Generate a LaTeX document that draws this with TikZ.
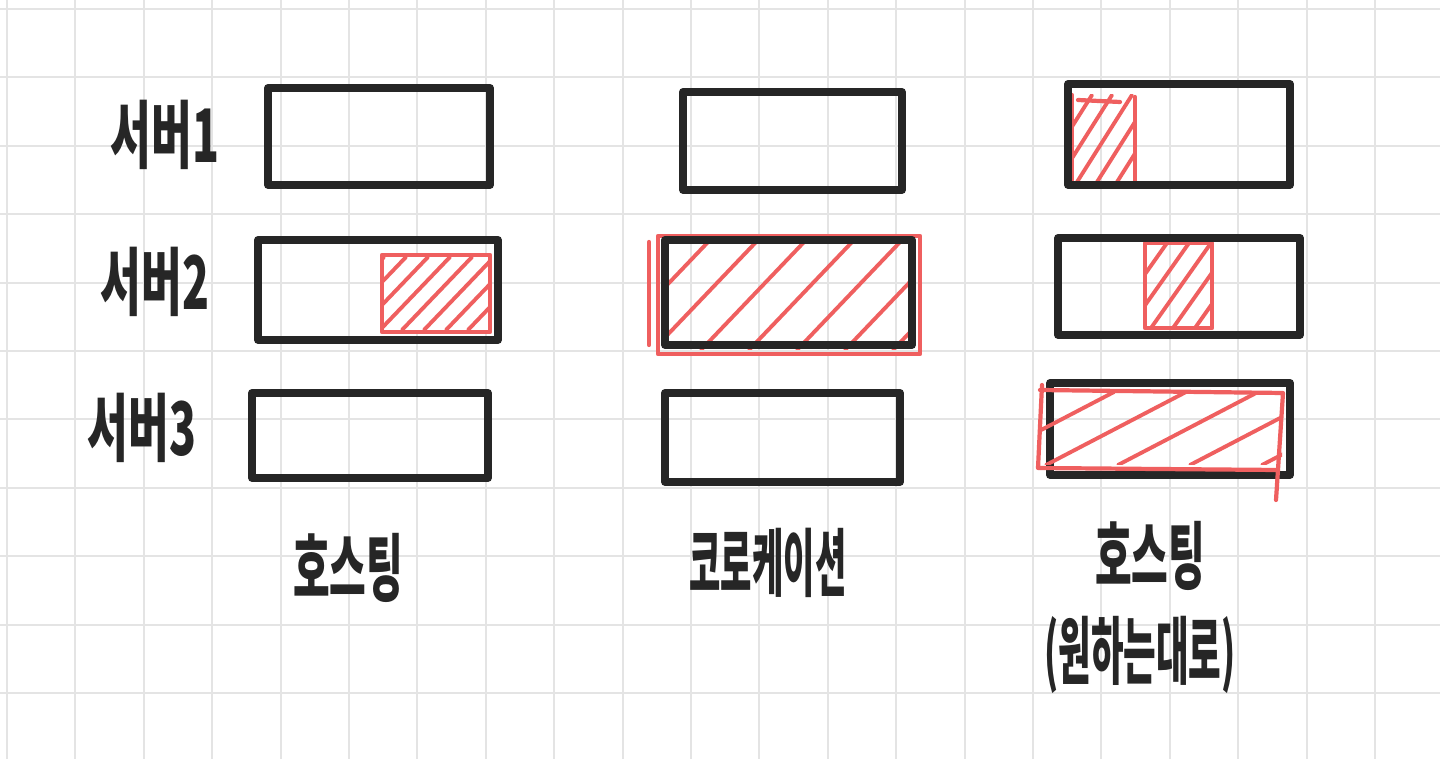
\documentclass[tikz,border=0pt]{standalone}
\usepackage{fontspec}
\newfontfamily\krfont{Noto Sans CJK KR}
\definecolor{ink}{HTML}{262626}
\definecolor{redpen}{HTML}{EF5F5F}
\definecolor{gridgray}{HTML}{E4E4E4}
% hatch a region: x1,y1,x2,y2,step,run
\newcommand{\hatchbox}[6]{%
\begin{scope}
\clip (#1,#2) rectangle (#3,#4);
\pgfmathtruncatemacro\hn{((#3)-(#1)+(#6))/(#5)+1}
\foreach \k in {0,...,\hn}
\draw[hatch] ({#1-#6+\k*#5},#4) -- ++(#6,{#2-#4});
\end{scope}}

\begin{document}
\begin{tikzpicture}[x=0.02cm,y=-0.02cm]

\tikzset{gridline/.style = {draw=gridgray, line width=1.1pt}}
\tikzset{box/.style = {draw=ink, line width=4.4pt, line cap=round, line join=round}}
\tikzset{redbox/.style = {draw=redpen, line width=2.4pt, line cap=round, line join=round}}
\tikzset{hatch/.style = {draw=redpen, line width=2.2pt, line cap=round}}
\tikzset{handtext/.style = {font=\krfont\bfseries\fontsize{42}{46}\selectfont, text=ink, inner sep=0pt, xscale=0.6}}

\fill[white] (0,0) rectangle (1440,759);
\useasboundingbox (0,0) rectangle (1440,759);

% grid paper
\foreach \k in {0,...,20}
\draw[gridline] ({7+68.4*\k},0) -- ({7+68.4*\k},759);
\foreach \k in {0,...,10}
\draw[gridline] (0,{9+68.4*\k}) -- (1440,{9+68.4*\k});

% row labels
\foreach \pos/\name/\txt in {{(165,135)/s1/서버1}, {(155,282)/s2/서버2}, {(142,428)/s3/서버3}}
\node[handtext] (\name) at \pos {\txt};

% column labels
\node[handtext, xscale=0.9] (host) at (348,568) {호스팅};
\node[handtext, xscale=0.77] (colo) at (768,563) {코로케이션};
\node[handtext, xscale=0.9] (hostb) at (1150,556) {호스팅};
\node[handtext, xscale=0.8] (want) at (1140,655) {(원하는대로)};

% red parts first, boxes on top
\fill[white] (382,255) rectangle (490,332);
\hatchbox{384}{257}{488}{330}{22}{70}
\draw[redbox] (382,255) rectangle (490,332);

\hatchbox{662}{240}{912}{350}{48}{105}
\draw[redbox] (658,236) rectangle (920,354);
\draw[redbox] (649,242) -- (649,345);

\hatchbox{1072}{95}{1135}{182}{20}{55}
\draw[redbox] (1072,95) -- (1072,180);
\draw[redbox] (1135,97) -- (1135,182);
\draw[redbox] (1078,100) -- (1120,102);

\hatchbox{1145}{243}{1212}{328}{22}{60}
\draw[redbox] (1145,243) rectangle (1212,328);

% black boxes
\foreach \a/\b/\c/\d in {268/88/490/185, 258/240/498/340, 252/393/488/478,
  683/92/902/190, 665/240/912/345, 665/393/900/482,
  1068/84/1290/185, 1058/238/1300/335, 1050/383/1290/475}
\draw[box] (\a,\b) rectangle (\c,\d);

\hatchbox{1042}{392}{1282}{465}{72}{140}
\draw[redbox] (1040,390) -- (1283,393) -- (1276,500);
\draw[redbox] (1042,385) -- (1038,468) -- (1278,470);

\end{tikzpicture}
\end{document}
